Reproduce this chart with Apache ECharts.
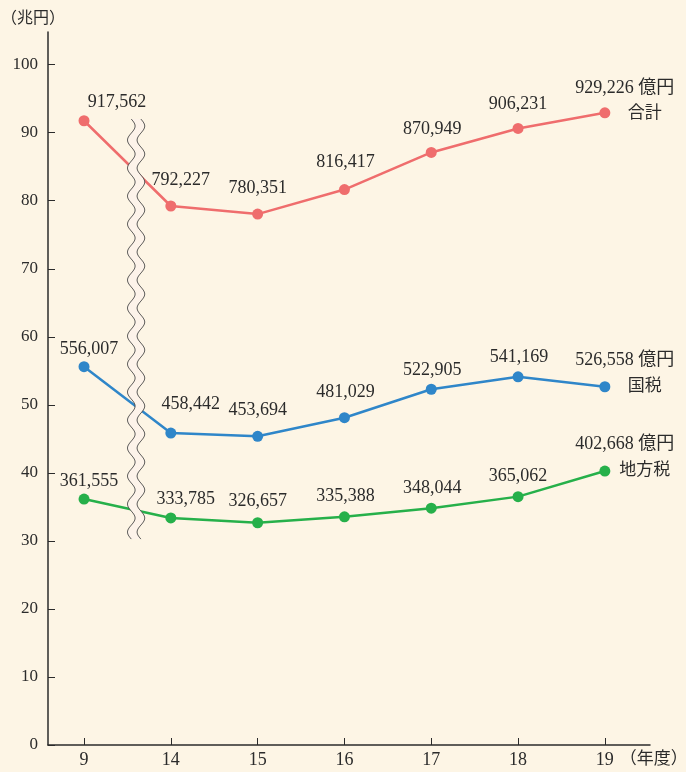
<!DOCTYPE html>
<html>
<head>
<meta charset="utf-8">
<title>国税・地方税の税収推移</title>
<script src="https://cdn.jsdelivr.net/npm/echarts@6/dist/echarts.min.js"></script>
<style>
  html, body { margin: 0; padding: 0; background: #fdf5e5; }
  #chart { width: 686px; height: 772px; }
</style>
</head>
<body>
<div id="chart"></div>
<script>
// 年度（平成）
const years = ['9', '14', '15', '16', '17', '18', '19'];
// 税収（億円）
const totalTax    = [917562, 792227, 780351, 816417, 870949, 906231, 929226];
const nationalTax = [556007, 458442, 453694, 481029, 522905, 541169, 526558];
const localTax    = [361555, 333785, 326657, 335388, 348044, 365062, 402668];
const seriesNames = ['合計', '国税', '地方税'];
// 縦軸目盛（兆円）
const yTicks = [0, 10, 20, 30, 40, 50, 60, 70, 80, 90, 100];

const FONT = '"Liberation Serif", "Noto Sans CJK JP", serif';
const TEXT = '#2b2b2b';
const colors = ['#ef6d6d', '#2f86c9', '#26b04a'];

// 各点の数値ラベルの位置（点の中心からのずれ, px）
const labelShift = [
  [[33, -18], [10, -26], [0, -26], [1, -27], [1, -23], [0, -24], [20, -12]],
  [[5, -17], [20, -29], [0, -26], [1, -25], [1, -19], [1, -20], [20, -13]],
  [[5, -18], [15, -19], [0, -21], [1, -21], [1, -20], [0, -20], [20, -14]]
];

const fmt = v => v.toLocaleString('en-US');

function buildSeries(values, idx) {
  const last = values.length - 1;
  return {
    name: seriesNames[idx],
    type: 'line',
    z: 3,
    symbol: 'circle',
    symbolSize: 11,
    color: colors[idx],
    lineStyle: { width: 2.5, color: colors[idx] },
    itemStyle: { color: colors[idx] },
    data: values.map((v, i) => ({
      value: [i, v / 10000],
      label: {
        show: true,
        position: 'inside',
        offset: labelShift[idx][i],
        color: TEXT,
        fontFamily: FONT,
        fontSize: 18,
        align: 'center',
        verticalAlign: 'middle',
        formatter: i === last
          ? `{v|${fmt(v)} 億円}\n{n|${seriesNames[idx]}}`
          : fmt(v),
        rich: i === last ? {
          v: { fontFamily: FONT, fontSize: 18, color: TEXT, lineHeight: 26 },
          n: { fontFamily: FONT, fontSize: 17, color: TEXT, lineHeight: 26, padding: [0, 0, 0, 40] }
        } : undefined
      }
    }))
  };
}

const chart = echarts.init(document.getElementById('chart'), null, { renderer: 'canvas' });

const xIdx = years.map((_, i) => i);

chart.setOption({
  backgroundColor: '#fdf5e5',
  animation: false,
  grid: { left: 48, right: 36, top: 32, bottom: 27, containLabel: false, outerBoundsMode: 'none' },
  xAxis: {
    type: 'value',
    min: -0.415,
    max: 6.52,
    splitLine: { show: false },
    axisLine: { show: true, onZero: false, lineStyle: { color: TEXT, width: 1.5 } },
    axisTick: { show: true, inside: true, length: 7, lineStyle: { color: TEXT, width: 1 }, customValues: xIdx },
    axisLabel: {
      customValues: xIdx,
      formatter: v => years[Math.round(v)],
      color: TEXT, fontFamily: FONT, fontSize: 18, margin: 6
    },
    name: '（年度）',
    nameLocation: 'end',
    nameGap: -31,
    nameTextStyle: {
      color: TEXT, fontFamily: FONT, fontSize: 17,
      align: 'left', verticalAlign: 'top', padding: [6, 0, 0, 0]
    }
  },
  yAxis: {
    type: 'value',
    min: 0,
    max: 104.8,
    splitLine: { show: false },
    axisLine: { show: true, onZero: false, lineStyle: { color: TEXT, width: 1.5 } },
    axisTick: { show: true, inside: true, length: 7, lineStyle: { color: TEXT, width: 1 }, customValues: yTicks },
    axisLabel: { customValues: yTicks, color: TEXT, fontFamily: FONT, fontSize: 17, margin: 10 },
    name: '（兆円）',
    nameLocation: 'end',
    nameGap: 5,
    nameTextStyle: {
      color: TEXT, fontFamily: FONT, fontSize: 16,
      align: 'center', padding: [0, 30, 0, 0]
    }
  },
  series: [
    buildSeries(totalTax, 0),
    buildSeries(nationalTax, 1),
    buildSeries(localTax, 2)
  ]
});

// 省略記号（波線）：9年度と14年度の間に描く
function drawBreak() {
  const top = chart.convertToPixel({ gridIndex: 0 }, [0.6, 92]);
  const bottom = chart.convertToPixel({ gridIndex: 0 }, [0.6, 30.2]);
  const cx = top[0];
  const y0 = top[1], y1 = bottom[1];
  const amp = 3.8, wave = 28, half = 4.8;
  const left = [], right = [];
  for (let y = y0; y <= y1; y += 1) {
    const dx = amp * Math.sin((y - y0) / wave * 2 * Math.PI);
    left.push([cx - half + dx, y]);
    right.push([cx + half + dx, y]);
  }
  const band = left.concat(right.slice().reverse());
  chart.setOption({
    graphic: [
      { type: 'polygon', z: 100, shape: { points: band }, style: { fill: '#fdf3ea', stroke: null } },
      { type: 'polyline', z: 101, shape: { points: left }, style: { stroke: '#444', lineWidth: 0.9, fill: null } },
      { type: 'polyline', z: 101, shape: { points: right }, style: { stroke: '#444', lineWidth: 0.9, fill: null } }
    ]
  });
}
drawBreak();
</script>
</body>
</html>
